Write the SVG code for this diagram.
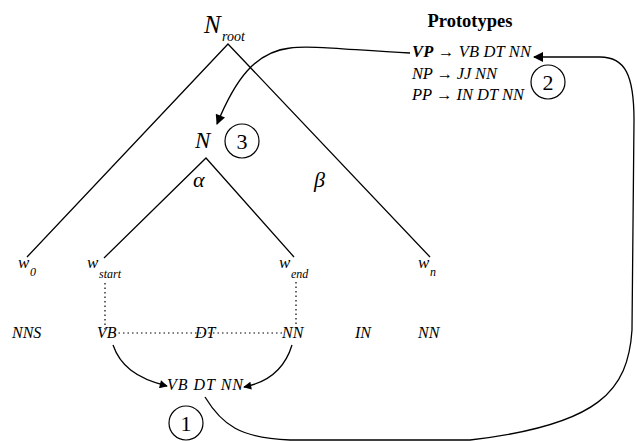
<svg xmlns="http://www.w3.org/2000/svg" width="637" height="441" viewBox="0 0 637 441">
<style>
text{font-family:"Liberation Serif","Times New Roman",serif;fill:#000}
.it{font-style:italic}
.lbl{font-size:16px;font-style:italic}
.w{font-size:17px;font-style:italic}
.sub{font-size:12px;font-style:italic}
.pr{font-size:16.5px;font-style:italic}
.ln{stroke:#000;stroke-width:1.3;fill:none}
.dot{stroke:#000;stroke-width:1.2;stroke-dasharray:1.5 3;fill:none}
.circ{stroke:#000;stroke-width:1.2;fill:none}
.num{font-size:22px;text-anchor:middle}
</style>
<defs>
<marker id="ah" viewBox="0 0 10 10" refX="9" refY="5" markerWidth="10" markerHeight="8" markerUnits="userSpaceOnUse" orient="auto"><path d="M0 0 L10 5 L0 10 Z" fill="#000"/></marker>
<marker id="ahb" viewBox="0 0 10 10" refX="9" refY="5" markerWidth="14" markerHeight="10" markerUnits="userSpaceOnUse" orient="auto"><path d="M0 0 L10 5 L0 10 Z" fill="#000"/></marker>
</defs>
<g id="tree-lines">
<path class="ln" d="M27 257 L228 44 L430 257"/>
<path class="ln" d="M104 258 L206 158 L294 257"/>
</g>
<g id="n-root"><text x="204" y="33" class="it" font-size="25">N</text><text x="222" y="41" class="it" font-size="14">root</text></g>
<g id="n-mid"><text x="195" y="148" class="it" font-size="23">N</text><circle class="circ" cx="242" cy="141" r="17"/><text x="242" y="149" class="num">3</text></g>
<g id="alpha"><text x="193" y="187" class="it" font-size="22">α</text></g>
<g id="beta"><text x="314" y="187" class="it" font-size="22">β</text></g>
<g id="w0"><text x="18" y="268" class="w">w</text><text x="30" y="276" class="sub">0</text></g>
<g id="wstart"><text x="87" y="268" class="w">w</text><text x="99" y="278" class="sub">start</text></g>
<g id="wend"><text x="279" y="268" class="w">w</text><text x="291" y="278" class="sub">end</text></g>
<g id="wn"><text x="418" y="268" class="w">w</text><text x="430" y="276" class="sub">n</text></g>
<g id="row">
<text x="12" y="338" class="lbl">NNS</text>
<text x="97" y="338" class="lbl">VB</text>
<text x="195" y="338" class="lbl">DT</text>
<text x="282" y="338" class="lbl">NN</text>
<text x="355" y="338" class="lbl">IN</text>
<text x="418" y="338" class="lbl">NN</text>
</g>
<g id="proto-mid"><text x="167" y="390" class="lbl" textLength="76" lengthAdjust="spacing">VB DT NN</text></g>
<g id="c1"><circle class="circ" cx="186" cy="423" r="17"/><text x="186" y="431" class="num">1</text></g>
<g id="prototypes">
<text x="470" y="27" font-size="18.5" font-weight="bold" text-anchor="middle">Prototypes</text>
<text x="412" y="57" class="pr" textLength="119" lengthAdjust="spacing"><tspan font-weight="bold">VP</tspan> → VB DT NN</text>
<text x="412" y="79" class="pr" textLength="85" lengthAdjust="spacing">NP → JJ NN</text>
<text x="412" y="100" class="pr" textLength="112" lengthAdjust="spacing">PP → IN DT NN</text>
<circle class="circ" cx="548" cy="82" r="17"/><text x="548" y="90" class="num">2</text>
</g>
<g id="connectors">
<path class="dot" d="M105 283 L105 330"/>
<path class="dot" d="M296 282 L296 330"/>
<path class="dot" d="M114 333 L283 333"/>
<path class="ln" d="M113 345 C120 365 135 378 167 386" marker-end="url(#ah)"/>
<path class="ln" d="M292 345 C285 368 270 382 244 387" marker-end="url(#ah)"/>
<path class="ln" d="M205 397 C222 425 240 438 290 440 L470 440 C600 425 628 390 632 330 L634 120 C634 75 625 57 600 57 L534 57" marker-end="url(#ahb)"/>
<path class="ln" d="M410 53 C350 50 310 45 290 48 C255 52 235 80 217 124" marker-end="url(#ahb)"/>
</g>
</svg>
